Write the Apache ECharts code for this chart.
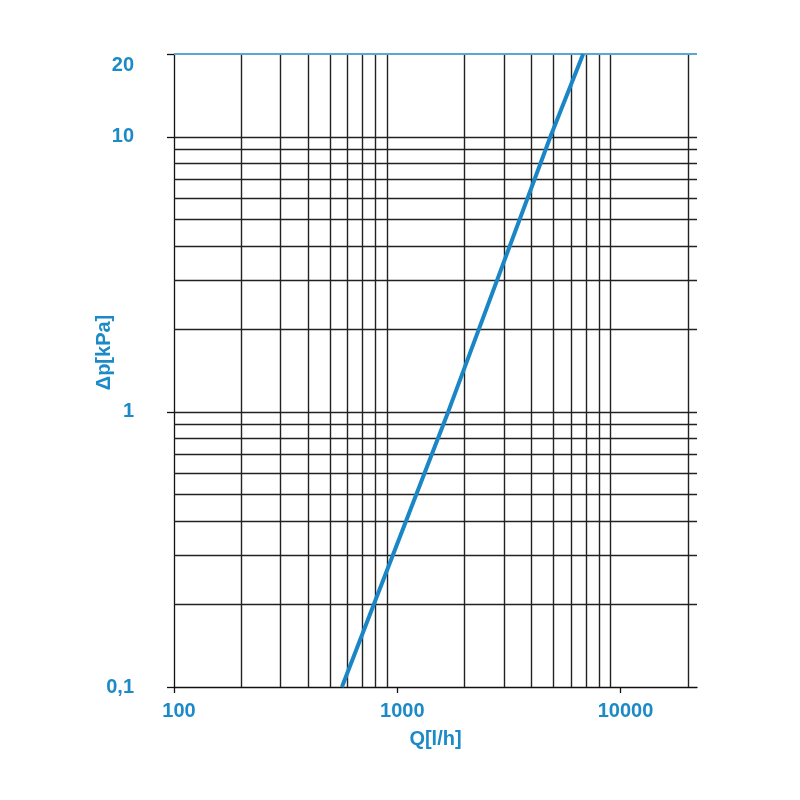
<!DOCTYPE html>
<html>
<head>
<meta charset="utf-8">
<script src="https://cdn.jsdelivr.net/npm/echarts@6/dist/echarts.min.js"></script>
<style>html,body{margin:0;padding:0;background:#fff}#c{width:800px;height:800px}</style>
</head>
<body>
<div id="c"></div>
<script>
// Data
const curveQ = [565, 1690, 4850, 6800];
const curveDp = [0.1, 1, 10, 20];
const xGridValues = [200, 300, 400, 500, 600, 700, 800, 900, 2000, 3000, 4000, 5000, 6000, 7000, 8000, 9000, 20000];
const yGridValues = [0.2, 0.3, 0.4, 0.5, 0.6, 0.7, 0.8, 0.9, 1, 2, 3, 4, 5, 6, 7, 8, 9, 10];
const yTopValue = 20;
const xTickLabels = [100, 1000, 10000];
const yTickLabels = [0.1, 1, 10, 20];
const xName = 'Q[l/h]';
const yName = 'Δp[kPa]';

const BLUE = '#1b8ac6';
const GRID = '#222';
const FONT = 'Liberation Sans, Arial, sans-serif';
const chart = echarts.init(document.getElementById('c'), null, {renderer: 'canvas'});

const gridLines = [];
xGridValues.forEach(v => gridLines.push({xAxis: v}));
yGridValues.forEach(v => gridLines.push({yAxis: v}));

chart.setOption({
  animation: false,
  backgroundColor: '#fff',
  grid: {left: 174, right: 103, top: 54, bottom: 113, containLabel: false},
  xAxis: {
    type: 'log', logBase: 10, min: 100, max: 22000,
    name: xName, nameLocation: 'middle', nameGap: 42, nameMoveOverlap: false,
    nameTextStyle: {color: BLUE, fontSize: 20, fontWeight: 'bold', fontFamily: FONT},
    axisLine: {show: true, lineStyle: {color: '#111', width: 1.3}},
    axisTick: {show: true, length: 6, customValues: xTickLabels, lineStyle: {color: '#111', width: 1.3}},
    axisLabel: {
      customValues: xTickLabels, margin: 14, padding: [0, 0, 0, 10],
      color: BLUE, fontSize: 20, fontWeight: 'bold', fontFamily: FONT,
      formatter: v => String(v)
    },
    splitLine: {show: false}, minorTick: {show: false}, minorSplitLine: {show: false}
  },
  yAxis: {
    type: 'log', logBase: 10, min: 0.1, max: 20,
    name: yName, nameLocation: 'middle', nameGap: 60, nameMoveOverlap: false,
    nameTextStyle: {color: BLUE, fontSize: 20, fontWeight: 'bold', fontFamily: FONT, padding: [0, 0, 0, 36]},
    axisLine: {show: true, lineStyle: {color: '#111', width: 1.3}},
    axisTick: {show: true, length: 7, customValues: yTickLabels, lineStyle: {color: '#111', width: 1.3}},
    axisLabel: {
      customValues: yTickLabels, margin: 40,
      color: BLUE, fontSize: 20, fontWeight: 'bold', fontFamily: FONT,
      formatter: v => {
        const s = String(+v.toPrecision(6)).replace('.', ',');
        return v >= 19 ? '{top|' + s + '}' : s;
      },
      rich: {top: {color: BLUE, fontSize: 20, fontWeight: 'bold', fontFamily: FONT, padding: [22, 0, 0, 0]}}
    },
    splitLine: {show: false}, minorTick: {show: false}, minorSplitLine: {show: false}
  },
  series: [
    {
      type: 'line', silent: true, symbol: 'none', data: [],
      markLine: {
        silent: true, symbol: 'none', label: {show: false}, animation: false,
        lineStyle: {color: GRID, width: 1.4, type: 'solid'},
        data: gridLines.concat([{yAxis: yTopValue, lineStyle: {color: '#5aa6d6', width: 2}}])
      }
    },
    {
      type: 'line', symbol: 'none', smooth: false,
      lineStyle: {color: '#1a86c6', width: 4},
      data: curveQ.map((q, i) => [q, curveDp[i]]),
      z: 5
    }
  ]
});
</script>
</body>
</html>
